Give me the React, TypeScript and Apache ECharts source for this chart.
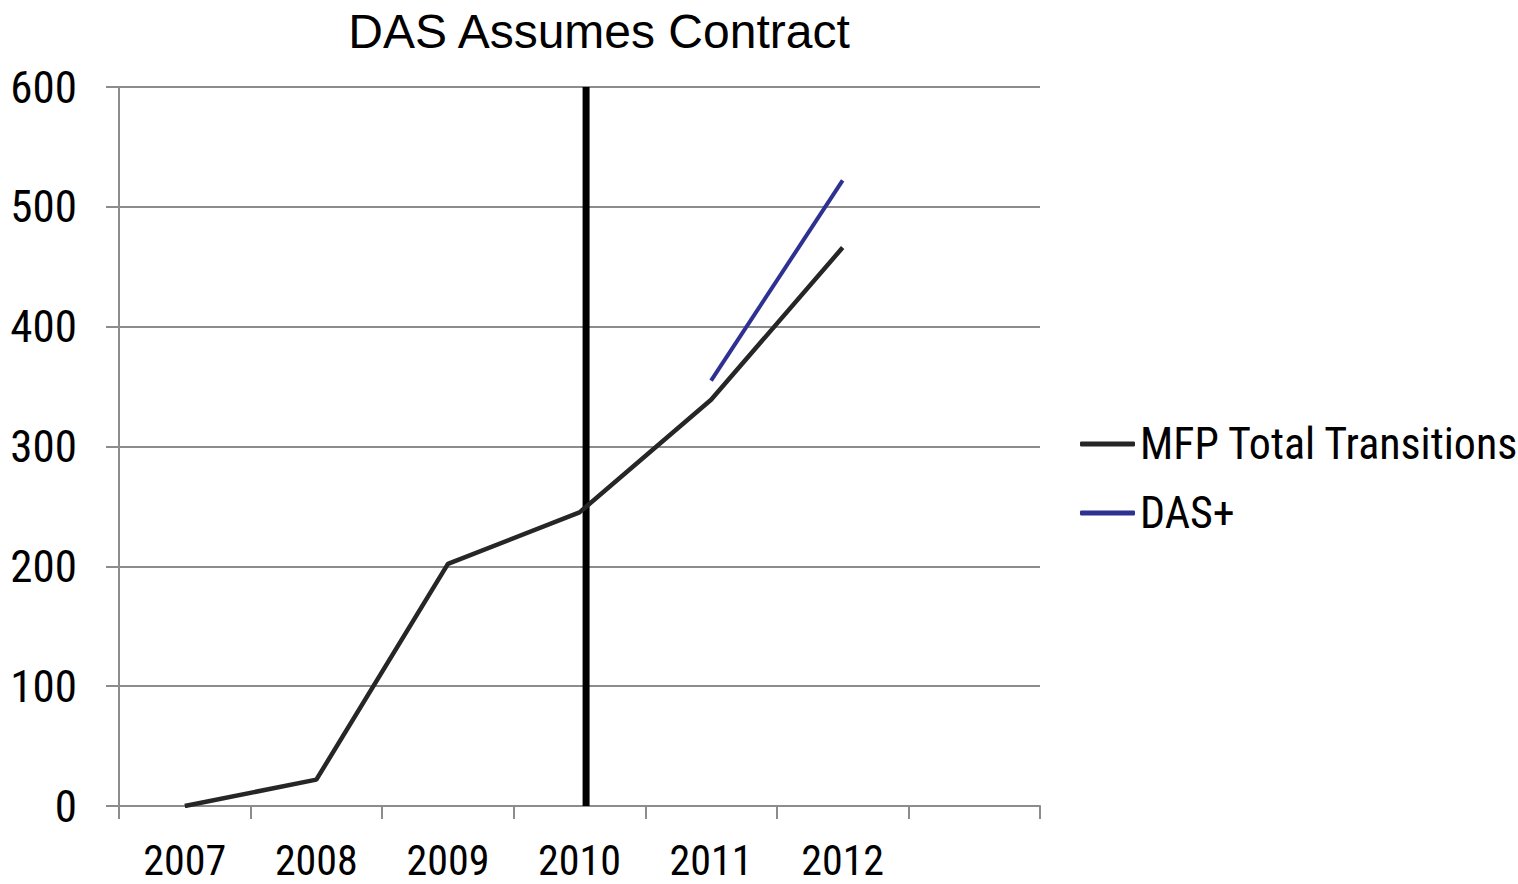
import React, { useEffect, useRef } from "react";
import * as echarts from "echarts";

const categories = ["2007", "2008", "2009", "2010", "2011", "2012", ""];
const mfpTotal = [0, 22, 202, 245, 339, 466, null];
const dasPlus = [null, null, null, null, 355, 522, null];
const yTicks = { min: 0, max: 600, interval: 100 };
// DAS assumes contract: position along the category axis (index units)
const contractPosition = 3.55;

const narrow = "'Roboto Condensed', 'Liberation Sans', Arial, sans-serif";

export default function App() {
  const ref = useRef<HTMLDivElement>(null);
  useEffect(() => {
    if (!ref.current) return;
    const chart = echarts.init(ref.current, null, { renderer: "svg" });
    chart.setOption({
      animation: false,
      backgroundColor: "#ffffff",
      title: {
        text: "DAS Assumes Contract",
        left: 594,
        textAlign: "center",
        top: 2,
        textStyle: {
          fontFamily: "'Liberation Sans', Arial, sans-serif",
          fontSize: 48,
          fontWeight: "normal",
          color: "#000",
        },
      },
      legend: {
        orient: "vertical",
        left: 1075,
        top: 417,
        itemWidth: 55,
        itemHeight: 5,
        itemGap: 25,
        icon: "roundRect",
        data: ["MFP Total Transitions", "DAS+"],
        textStyle: { fontFamily: narrow, fontSize: 44, color: "#000" },
      },
      grid: { left: 119, right: 478, top: 87, bottom: 78, containLabel: false },
      xAxis: [
        {
          type: "category",
          data: categories,
          boundaryGap: true,
          axisLine: { lineStyle: { color: "#8c8c8c", width: 2 } },
          axisTick: { show: true, length: 13, lineStyle: { color: "#8c8c8c", width: 2 } },
          axisLabel: { fontFamily: narrow, fontSize: 42, lineHeight: 42, color: "#000", margin: 33, interval: 0 },
          splitLine: { show: false },
        },
        {
          type: "value",
          min: 0,
          max: categories.length,
          show: false,
        },
      ],
      yAxis: {
        type: "value",
        min: yTicks.min,
        max: yTicks.max,
        interval: yTicks.interval,
        axisLine: { show: true, lineStyle: { color: "#8c8c8c", width: 2 } },
        axisTick: { show: true, length: 13, lineStyle: { color: "#8c8c8c", width: 2 } },
        axisLabel: { fontFamily: narrow, fontSize: 45, color: "#000", margin: 42 },
        splitLine: { show: true, lineStyle: { color: "#8c8c8c", width: 2 } },
      },
      series: [
        {
          name: "contract",
          type: "line",
          xAxisIndex: 1,
          data: [
            [contractPosition, yTicks.min],
            [contractPosition, yTicks.max],
          ],
          symbol: "none",
          lineStyle: { color: "#000", width: 7 },
          silent: true,
        },
        {
          name: "MFP Total Transitions",
          type: "line",
          data: mfpTotal,
          symbol: "none",
          lineStyle: { color: "#262626", width: 4.5 },
          itemStyle: { color: "#262626" },
        },
        {
          name: "DAS+",
          type: "line",
          data: dasPlus,
          symbol: "none",
          lineStyle: { color: "#2e3192", width: 4 },
          itemStyle: { color: "#2e3192" },
        },
      ],
    });
    return () => chart.dispose();
  }, []);
  return <div ref={ref} style={{ width: 1518, height: 884, position: "absolute", left: 0, top: 0 }} />;
}
